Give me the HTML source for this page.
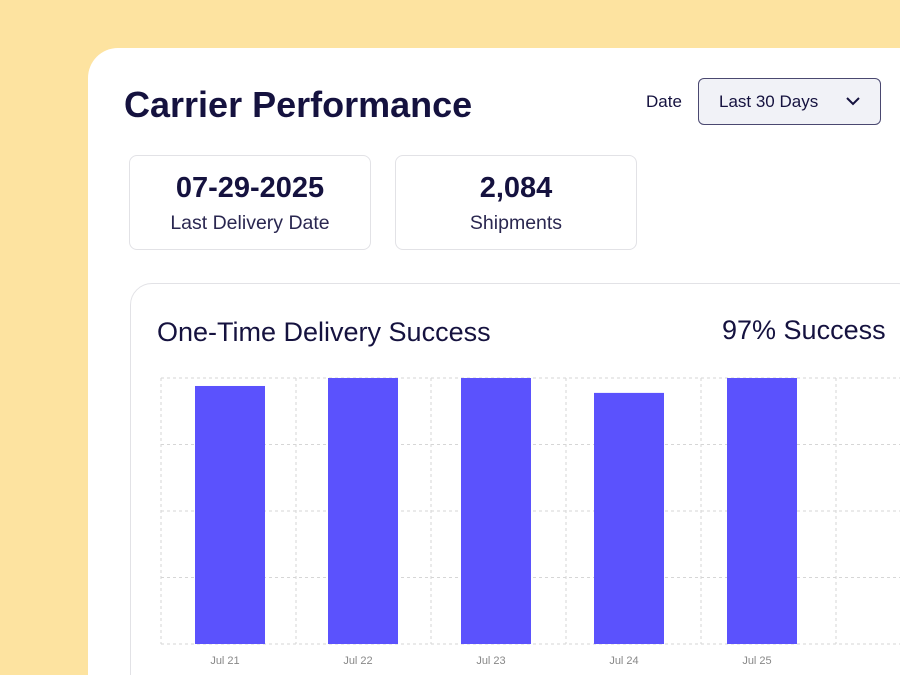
<!DOCTYPE html>
<html><head><meta charset="utf-8"><style>
html,body{margin:0;width:900px;height:675px;overflow:hidden}
body{background:#fde3a0;font-family:"Liberation Sans",sans-serif;color:#15123f}
#wrap{position:relative;width:900px;height:675px;overflow:hidden}
.card{position:absolute;left:88px;top:48px;width:812px;height:627px;background:#fff;border-radius:30px 0 0 0}
.t{position:absolute;white-space:nowrap}
.kpi{position:absolute;top:155px;width:242px;height:95px;border:1.5px solid #e2e2e6;border-radius:8px;box-sizing:border-box;text-align:center}
.kpi .v{font-size:29px;font-weight:bold;margin-top:16px}
.kpi .l{font-size:19.5px;margin-top:7px;color:#2a2750}
</style></head><body>
<div id="wrap">
<div class="card"></div>
<div class="t" style="left:124px;top:84px;font-size:36px;font-weight:bold;">Carrier Performance</div>
<div class="t" style="left:646px;top:92px;font-size:17px">Date</div>
<div style="position:absolute;left:698px;top:78px;width:183px;height:47px;box-sizing:border-box;border:1.5px solid #4a4870;border-radius:6px;background:#f1f2f7">
<span style="position:absolute;left:20px;top:13px;font-size:17px">Last 30 Days</span>
<svg style="position:absolute;left:146px;top:16px" width="16" height="12"><path d="M2 3 L8 9 L14 3" fill="none" stroke="#15123f" stroke-width="2"/></svg></div>
<div class="kpi" style="left:129px"><div class="v">07-29-2025</div><div class="l">Last Delivery Date</div></div>
<div class="kpi" style="left:395px"><div class="v">2,084</div><div class="l">Shipments</div></div>
<div style="position:absolute;left:130px;top:283px;width:790px;height:420px;border:1.5px solid #e2e2e6;border-radius:22px;box-sizing:border-box"></div>
<div class="t" style="left:157px;top:317px;font-size:27px">One-Time Delivery Success</div>
<div class="t" style="left:722px;top:315px;font-size:27px">97% Success</div>
<svg id="chart" width="900" height="675" style="position:absolute;left:0;top:0"></svg>
</div>
<script>
const categories=["Jul 21","Jul 22","Jul 23","Jul 24","Jul 25"];
const values=[97,100,100,94.4,100];
const yTicks=[0,25,50,75,100];
const svg=document.getElementById('chart');const NS="http://www.w3.org/2000/svg";
const y0=644,y1=378,yMax=100;
const y=v=>y0-(v/yMax)*(y0-y1);
const xc=i=>230+i*133;
function mk(t,a){const e=document.createElementNS(NS,t);for(const k in a)e.setAttribute(k,a[k]);svg.appendChild(e);return e;}
yTicks.forEach(t=>{const l=mk('line',{x1:161,x2:900,y1:y(t),y2:y(t),stroke:'#d6d6d6','stroke-dasharray':'3,3'});

});
for(let k=0;k<6;k++){const gx=161+k*135;const l=mk('line',{x1:gx,x2:gx,y1:y1,y2:y0,stroke:'#d6d6d6','stroke-dasharray':'3,3'});

}
categories.forEach((c,i)=>{
const r=mk('rect',{x:xc(i)-35,y:y(values[i]),width:70,height:y0-y(values[i]),fill:'#5b52fd'});


const t=mk('text',{x:xc(i)-5,y:664,'text-anchor':'middle','font-size':11,fill:'#888','font-family':'Liberation Sans, sans-serif'});
t.textContent=c;

});
</script>
</body></html>
